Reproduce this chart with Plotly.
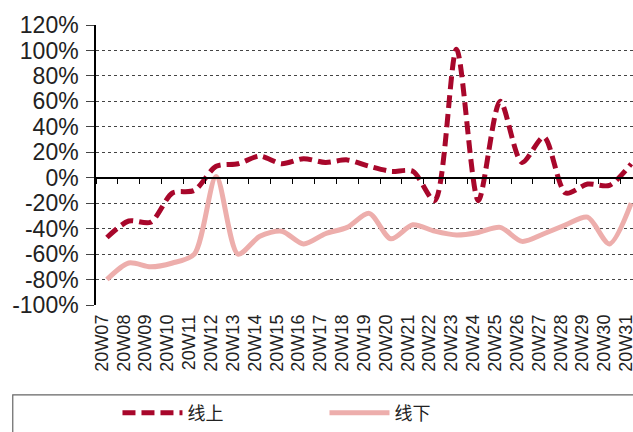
import plotly.graph_objects as go

weeks = ["20W07", "20W08", "20W09", "20W10", "20W11", "20W12", "20W13", "20W14", "20W15",
         "20W16", "20W17", "20W18", "20W19", "20W20", "20W21", "20W22", "20W23", "20W24",
         "20W25", "20W26", "20W27", "20W28", "20W29", "20W30", "20W31"]
online = [-47, -34, -35, -12, -10, 9, 11, 17, 11, 15, 12, 14, 9, 5, 5, -18, 101, -18,
          60, 12, 32, -12, -5, -6, 11]
offline = [-80, -67, -70, -67, -60, 1, -60, -46, -42, -52, -44, -39, -28, -48, -37, -42,
           -45, -43, -39, -50, -44, -37, -31, -52, -20]
y_ticks = [-100, -80, -60, -40, -20, 0, 20, 40, 60, 80, 100, 120]
y_min, y_max = -100, 120

font_lat = "Liberation Sans, Arial, sans-serif"
font_cjk = "Noto Sans CJK SC, sans-serif"

fig = go.Figure()
fig.add_trace(go.Scatter(
    x=weeks, y=offline, name="线下", mode="lines", xaxis="x", yaxis="y",
    line=dict(color="#EDAEAC", width=5, shape="spline", smoothing=0.8),
))
fig.add_trace(go.Scatter(
    x=weeks, y=online, name="线上", mode="lines", xaxis="x2", yaxis="y",
    line=dict(color="#A8072B", width=5, dash="13px,6px", shape="spline", smoothing=0.8),
))

x_range = [-0.5, len(weeks) - 1 + 0.08]

fig.update_layout(
    width=633, height=432,
    margin=dict(l=96, r=0, t=25, b=127, pad=0),
    paper_bgcolor="white", plot_bgcolor="white",
    showlegend=True,
    legend=dict(
        orientation="h", x=0.04, xanchor="left", y=-0.386, yanchor="middle",
        font=dict(family=font_cjk, size=18, color="#222"),
        traceorder="reversed", entrywidth=132, itemwidth=60,
        bgcolor="rgba(0,0,0,0)",
    ),
    xaxis=dict(
        type="category", categoryorder="array", categoryarray=weeks,
        range=x_range, showgrid=False, showline=False, zeroline=False,
        ticks="", tickangle=-90, ticklabelstandoff=5, ticklabelshift=-5,
        tickmode="linear", dtick=1, automargin=False,
        tickfont=dict(family=font_lat, size=18, color="#222"),
    ),
    xaxis2=dict(
        type="category", categoryorder="array", categoryarray=weeks,
        range=x_range, overlaying="x", anchor="free",
        position=(0 - y_min) / (y_max - y_min),
        showgrid=False, showline=True, linecolor="#000", linewidth=1.5,
        ticks="outside", ticklen=6, tickwidth=1.3, tickcolor="#000",
        tickson="boundaries", showticklabels=False, zeroline=False,
        automargin=False,
    ),
    yaxis=dict(
        range=[y_min, y_max], tickvals=y_ticks,
        ticktext=[f"{v}%" for v in y_ticks],
        showgrid=True, gridcolor="#444", griddash="dot", gridwidth=1,
        showline=True, linecolor="#000", linewidth=1.5, zeroline=False,
        ticks="outside", ticklen=8, tickcolor="#444", tickwidth=1,
        ticklabelstandoff=3, automargin=False,
        tickfont=dict(family=font_lat, size=23, color="#222"),
    ),
    shapes=[dict(
        type="rect", xref="paper", yref="paper",
        x0=-0.155, x1=1.02, y0=-0.321, y1=-0.5,
        line=dict(color="#666", width=1.2), fillcolor="rgba(0,0,0,0)",
        layer="below",
    )],
)

fig.write_html(
    "out.html",
    config={"displayModeBar": False},
    post_script="document.body.style.margin='0';document.body.style.overflow='hidden';",
)
